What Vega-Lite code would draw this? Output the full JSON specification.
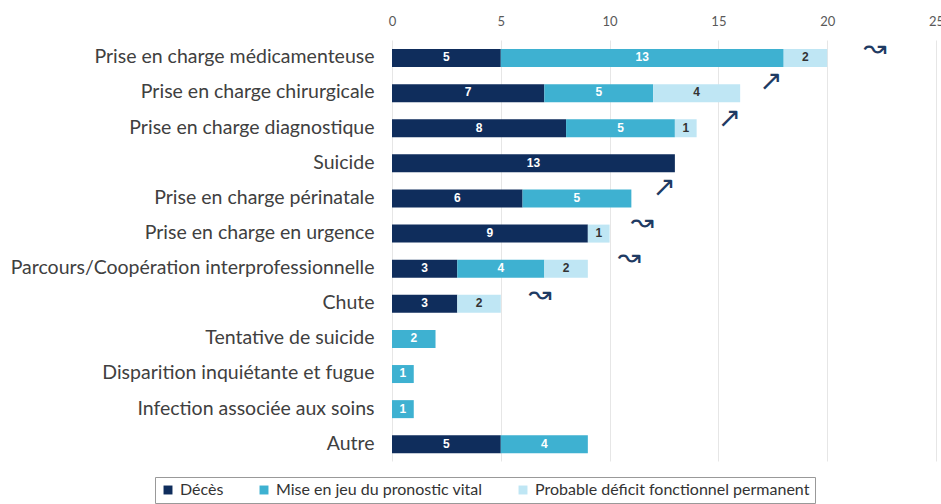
{
  "$schema": "https://vega.github.io/schema/vega-lite/v6.json",
  "width": 544,
  "height": 421,
  "autosize": {"type": "none"},
  "padding": {"left": 392, "top": 40, "right": 5, "bottom": 43},
  "background": "white",
  "config": {
    "view": {"stroke": null},
    "font": "Lato"
  },
  "datasets": {
    "bars": [
      {"cat": "Prise en charge médicamenteuse", "type": "Décès", "ord": 1, "value": 5},
      {"cat": "Prise en charge médicamenteuse", "type": "Mise en jeu du pronostic vital", "ord": 2, "value": 13},
      {"cat": "Prise en charge médicamenteuse", "type": "Probable déficit fonctionnel permanent", "ord": 3, "value": 2},
      {"cat": "Prise en charge chirurgicale", "type": "Décès", "ord": 1, "value": 7},
      {"cat": "Prise en charge chirurgicale", "type": "Mise en jeu du pronostic vital", "ord": 2, "value": 5},
      {"cat": "Prise en charge chirurgicale", "type": "Probable déficit fonctionnel permanent", "ord": 3, "value": 4},
      {"cat": "Prise en charge diagnostique", "type": "Décès", "ord": 1, "value": 8},
      {"cat": "Prise en charge diagnostique", "type": "Mise en jeu du pronostic vital", "ord": 2, "value": 5},
      {"cat": "Prise en charge diagnostique", "type": "Probable déficit fonctionnel permanent", "ord": 3, "value": 1},
      {"cat": "Suicide", "type": "Décès", "ord": 1, "value": 13},
      {"cat": "Prise en charge périnatale", "type": "Décès", "ord": 1, "value": 6},
      {"cat": "Prise en charge périnatale", "type": "Mise en jeu du pronostic vital", "ord": 2, "value": 5},
      {"cat": "Prise en charge en urgence", "type": "Décès", "ord": 1, "value": 9},
      {"cat": "Prise en charge en urgence", "type": "Probable déficit fonctionnel permanent", "ord": 3, "value": 1},
      {"cat": "Parcours/Coopération interprofessionnelle", "type": "Décès", "ord": 1, "value": 3},
      {"cat": "Parcours/Coopération interprofessionnelle", "type": "Mise en jeu du pronostic vital", "ord": 2, "value": 4},
      {"cat": "Parcours/Coopération interprofessionnelle", "type": "Probable déficit fonctionnel permanent", "ord": 3, "value": 2},
      {"cat": "Chute", "type": "Décès", "ord": 1, "value": 3},
      {"cat": "Chute", "type": "Probable déficit fonctionnel permanent", "ord": 3, "value": 2},
      {"cat": "Tentative de suicide", "type": "Mise en jeu du pronostic vital", "ord": 2, "value": 2},
      {"cat": "Disparition inquiétante et fugue", "type": "Mise en jeu du pronostic vital", "ord": 2, "value": 1},
      {"cat": "Infection associée aux soins", "type": "Mise en jeu du pronostic vital", "ord": 2, "value": 1},
      {"cat": "Autre", "type": "Décès", "ord": 1, "value": 5},
      {"cat": "Autre", "type": "Mise en jeu du pronostic vital", "ord": 2, "value": 4}
    ],
    "marks": [
      {"cat": "Prise en charge médicamenteuse", "pos": 22.2, "glyph": "↝", "shift": 4},
      {"cat": "Prise en charge chirurgicale", "pos": 17.4, "glyph": "↗", "shift": 2},
      {"cat": "Prise en charge diagnostique", "pos": 15.5, "glyph": "↗", "shift": 4},
      {"cat": "Prise en charge périnatale", "pos": 12.5, "glyph": "↗", "shift": 2},
      {"cat": "Prise en charge en urgence", "pos": 11.5, "glyph": "↝", "shift": 2},
      {"cat": "Parcours/Coopération interprofessionnelle", "pos": 10.9, "glyph": "↝", "shift": 2},
      {"cat": "Chute", "pos": 6.8, "glyph": "↝", "shift": 4}
    ]
  },
  "layer": [
    {
      "data": {"name": "bars"},
      "transform": [
        {"stack": "value", "groupby": ["cat"], "sort": [{"field": "ord"}], "as": ["v0", "v1"]}
      ],
      "mark": {"type": "bar", "height": {"band": 0.69}},
      "encoding": {
        "y": {
          "field": "cat", "type": "nominal", "sort": null,
          "scale": {"paddingInner": 0.31, "paddingOuter": 0.15},
          "axis": {"title": null, "domain": false, "ticks": false, "labelFontSize": 19.5, "labelColor": "#404040", "labelPadding": 18, "labelLimit": 420, "labelFont": "Lato"}
        },
        "x": {
          "field": "v0", "type": "quantitative",
          "scale": {"domain": [0, 25], "nice": false},
          "axis": {"orient": "top", "title": null, "values": [0, 5, 10, 15, 20, 25], "domain": false, "ticks": false, "labelFontSize": 13, "labelColor": "#595959", "labelPadding": 12, "gridColor": "#e6e6e6", "labelFlush": false}
        },
        "x2": {"field": "v1"},
        "color": {
          "field": "type", "type": "nominal",
          "scale": {"domain": ["Décès", "Mise en jeu du pronostic vital", "Probable déficit fonctionnel permanent"], "range": ["#0f2d5c", "#3eb1d1", "#bfe6f4"]},
          "legend": {"title": null, "orient": "none", "direction": "horizontal", "legendX": -237, "legendY": 437, "symbolType": "square", "symbolSize": 80, "symbolStrokeWidth": 0, "labelFontSize": 16, "labelColor": "#333333", "columnPadding": 32, "padding": 5, "strokeColor": "#999999", "labelLimit": 400}
        }
      }
    },
    {
      "data": {"name": "bars"},
      "transform": [
        {"stack": "value", "groupby": ["cat"], "sort": [{"field": "ord"}], "as": ["v0", "v1"]},
        {"calculate": "(datum.v0 + datum.v1) / 2", "as": "mid"}
      ],
      "mark": {"type": "text", "fontSize": 12, "fontWeight": "bold", "font": "Liberation Sans"},
      "encoding": {
        "y": {"field": "cat", "type": "nominal", "sort": null},
        "x": {"field": "mid", "type": "quantitative"},
        "text": {"field": "value", "type": "quantitative"},
        "color": {
          "condition": {"test": "datum.ord == 3", "value": "#333333"},
          "value": "white"
        }
      }
    },
    {
      "data": {"name": "marks"},
      "mark": {"type": "text", "fontSize": 28, "color": "#1f3b63", "font": "DejaVu Sans"},
      "encoding": {
        "y": {"field": "cat", "type": "nominal", "sort": null},
        "x": {"field": "pos", "type": "quantitative"},
        "text": {"field": "glyph"},
        "yOffset": {"field": "shift", "type": "quantitative", "scale": {"domain": [0, 10], "range": [0, 10]}, "legend": null}
      }
    }
  ]
}
